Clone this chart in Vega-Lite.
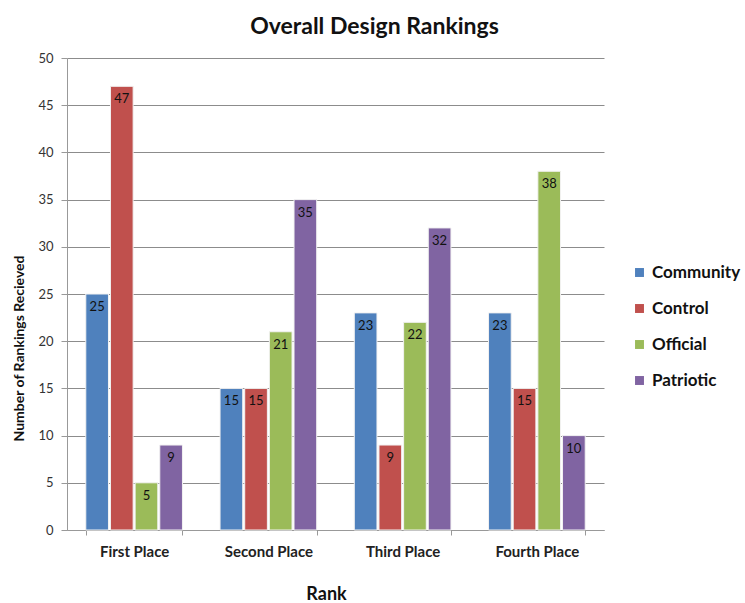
{
  "$schema": "https://vega.github.io/schema/vega-lite/v6.json",
  "autosize": {"type": "none"},
  "padding": {"left": 67, "top": 58, "right": 141, "bottom": 73},
  "width": 537,
  "height": 472,
  "background": "white",
  "title": {
    "text": "Overall Design Rankings",
    "font": "Lato",
    "fontSize": 23,
    "fontWeight": "bold",
    "color": "#111",
    "anchor": "middle",
    "dx": 39,
    "offset": 13
  },
  "config": {
    "view": {"stroke": null},
    "font": "Lato"
  },
  "data": {
    "values": [
      {"rank": "First Place", "design": "Community", "count": 25},
      {"rank": "First Place", "design": "Control", "count": 47},
      {"rank": "First Place", "design": "Official", "count": 5},
      {"rank": "First Place", "design": "Patriotic", "count": 9},
      {"rank": "Second Place", "design": "Community", "count": 15},
      {"rank": "Second Place", "design": "Control", "count": 15},
      {"rank": "Second Place", "design": "Official", "count": 21},
      {"rank": "Second Place", "design": "Patriotic", "count": 35},
      {"rank": "Third Place", "design": "Community", "count": 23},
      {"rank": "Third Place", "design": "Control", "count": 9},
      {"rank": "Third Place", "design": "Official", "count": 22},
      {"rank": "Third Place", "design": "Patriotic", "count": 32},
      {"rank": "Fourth Place", "design": "Community", "count": 23},
      {"rank": "Fourth Place", "design": "Control", "count": 15},
      {"rank": "Fourth Place", "design": "Official", "count": 38},
      {"rank": "Fourth Place", "design": "Patriotic", "count": 10}
    ]
  },
  "encoding": {
    "x": {
      "field": "rank",
      "type": "nominal",
      "sort": ["First Place", "Second Place", "Third Place", "Fourth Place"],
      "scale": {"paddingInner": 0.28, "paddingOuter": 0.14},
      "axis": {
        "title": "Rank",
        "titleFont": "Lato",
        "titleFontSize": 18,
        "titleFontWeight": "bold",
        "titleColor": "#111",
        "titleX": 259,
        "titleY": 64,
        "titleBaseline": "middle",
        "titleAlign": "center",
        "labelAngle": 0,
        "labelFont": "Lato",
        "labelFontSize": 15,
        "labelFontWeight": "bold",
        "labelColor": "#222",
        "labelPadding": 9,
        "tickBand": "extent",
        "tickSize": 5,
        "tickColor": "#999",
        "domainColor": "#999",
        "grid": false
      }
    },
    "xOffset": {
      "field": "design",
      "type": "nominal",
      "scale": {"paddingInner": 0.08}
    },
    "y": {
      "field": "count",
      "type": "quantitative",
      "scale": {"domain": [0, 50], "nice": false},
      "axis": {
        "title": "Number of Rankings Recieved",
        "titleFont": "Lato",
        "titleFontSize": 14,
        "titleFontWeight": "bold",
        "titleColor": "#111",
        "titleX": -48,
        "titleY": 290,
        "titleBaseline": "middle",
        "titleAlign": "center",
        "titleAngle": -90,
        "values": [0, 5, 10, 15, 20, 25, 30, 35, 40, 45, 50],
        "labelFont": "Lato",
        "labelFontSize": 13,
        "labelColor": "#333",
        "labelPadding": 8,
        "tickSize": 6,
        "tickColor": "#999",
        "domainColor": "#999",
        "gridColor": "#8c8c8c",
        "gridWidth": 1
      }
    }
  },
  "layer": [
    {
      "mark": {"type": "bar", "stroke": "#f2f2f2", "strokeWidth": 1},
      "encoding": {
        "color": {
          "field": "design",
          "type": "nominal",
          "scale": {
            "domain": ["Community", "Control", "Official", "Patriotic"],
            "range": ["#4F81BD", "#C0504D", "#9BBB59", "#8064A2"]
          },
          "legend": {
            "title": null,
            "orient": "none",
            "legendX": 564,
            "legendY": 206,
            "symbolType": "square",
            "symbolSize": 80,
            "symbolStrokeWidth": 0,
            "labelFont": "Lato",
            "labelFontSize": 17,
            "labelFontWeight": "bold",
            "labelColor": "#111",
            "rowPadding": 18,
            "labelOffset": 4
          }
        }
      }
    },
    {
      "mark": {"type": "text", "baseline": "top", "dy": 7, "fontSize": 13, "font": "Lato", "color": "#111"},
      "encoding": {
        "text": {"field": "count", "type": "quantitative"}
      }
    }
  ]
}
